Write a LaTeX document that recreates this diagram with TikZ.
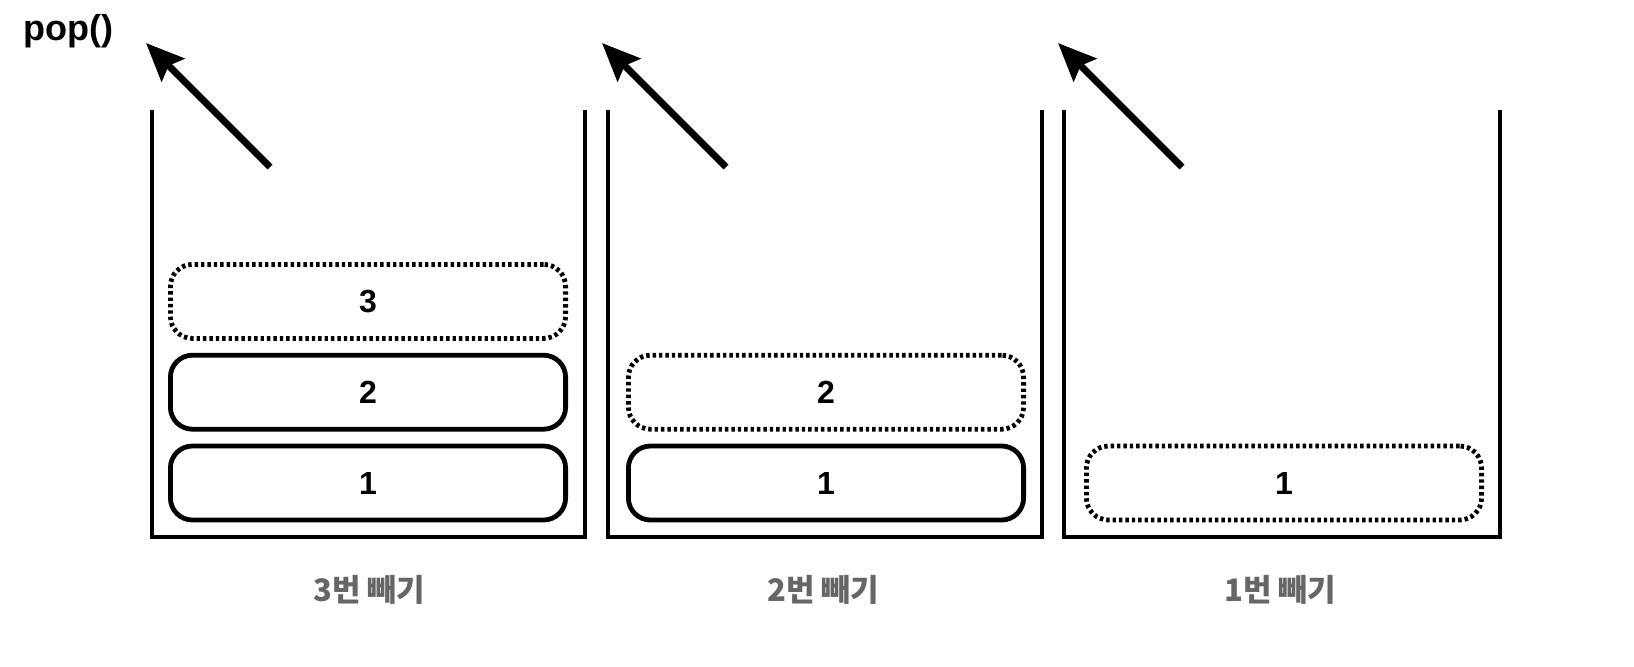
\documentclass[tikz,border=0pt]{standalone}
\usepackage{fontspec}
\setmainfont{Liberation Sans}
\newfontfamily\kr{Noto Sans CJK KR}
\usetikzlibrary{arrows.meta,positioning}

\begin{document}
\begin{tikzpicture}[x=0.5pt,y=-0.5pt,>={Stealth[length=19pt,width=16pt,inset=3pt]},
	item/.style={draw, rounded corners=11pt, line width=2.4pt, minimum width=197.6pt, minimum height=37pt, font=\bfseries\fontsize{16}{19}\selectfont},
	gone/.style={item, dash pattern=on 1.7pt off 1.5pt},
	wall/.style={line width=2.4pt},
	popline/.style={->, line width=3.5pt},
	caption/.style={font=\kr\bfseries\fontsize{15.5}{18}\selectfont, text=black!60}]
	\useasboundingbox (0,0) rectangle (1634,666);

	\node[item] 		 (A1) at (368,483)   {1};
	\node[item]          (A2) [above=6pt of A1]   {2};
	\node[gone]          (A3) [above=6pt of A2]   {3};
	\node[item]          (B1) [right=29pt of A1]  {1};
	\node[gone]          (B2) [above=6pt of B1]   {2};
	\node[gone]          (C1) [right=29pt of B1]  {1};

	% stacks
	\draw[wall] (152,110) -- (152,537) -- (585,537) -- (585,110);
	\draw[wall] (608,110) -- (608,537) -- (1042,537) -- (1042,110);
	\draw[wall] (1064,110) -- (1064,537) -- (1500,537) -- (1500,110);

	\node[font=\bfseries\fontsize{18}{21}\selectfont, anchor=west] (pop) at (16,31) {pop()};

	\coordinate (aFrom) at (270,167);  \coordinate (aTo) at (146,43);
	\coordinate (bFrom) at (726,167);  \coordinate (bTo) at (602,43);
	\coordinate (cFrom) at (1182,167); \coordinate (cTo) at (1058,43);
	\draw[popline] (aFrom) -- (aTo);
	\draw[popline] (bFrom) -- (bTo);
	\draw[popline] (cFrom) -- (cTo);

	\node[caption] (lblA) at (369,590) {3번 빼기};
	\node[caption] (lblB) at (823,590) {2번 빼기};
	\node[caption] (lblC) at (1280,590) {1번 빼기};
\end{tikzpicture}
\end{document}
